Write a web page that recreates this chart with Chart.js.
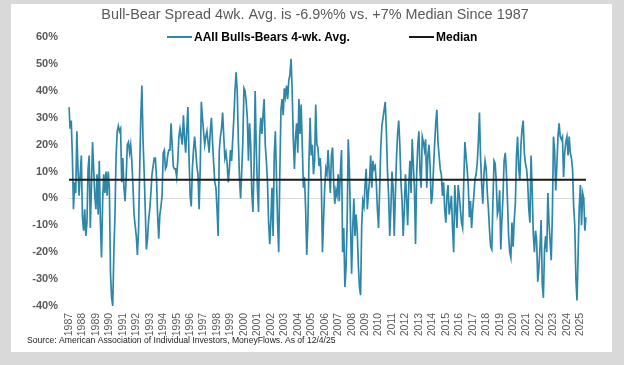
<!DOCTYPE html>
<html>
<head>
<meta charset="utf-8">
<script src="https://cdn.jsdelivr.net/npm/chart.js@4.4.1/dist/chart.umd.min.js"></script>
<style>
  html, body { margin: 0; padding: 0; width: 624px; height: 365px; overflow: hidden; background: #d9d9d9; }
  #frame { position: absolute; left: 11px; top: 4px; width: 601px; height: 348px; background: #ffffff; }
  #wrap { position: absolute; left: 0; top: 0; width: 624px; height: 365px; }
  #legend { position: absolute; left: 0; top: 30px; width: 624px; height: 14px;
            font: bold 12px "Liberation Sans", Arial, sans-serif; color: #000; }
  .item { position: absolute; top: 0; height: 14px; display: flex; align-items: center; white-space: nowrap; }
  .swatch { display: inline-block; width: 25px; height: 2px; margin-right: 2px; }
</style>
</head>
<body>
<div id="frame"></div>
<div id="wrap"><canvas id="c" width="624" height="365"></canvas></div>
<div id="legend"></div>
<script>
// ---- data (monthly readings of the AAII Bull-Bear spread 4-wk avg, %) ----
const firstYear = 1987;      // survey starts July 1987
const firstMonth = 7;
const yearLabels = [1987,1988,1989,1990,1991,1992,1993,1994,1995,1996,1997,1998,1999,2000,
  2001,2002,2003,2004,2005,2006,2007,2008,2009,2010,2011,2012,2013,2014,2015,2016,2017,2018,
  2019,2020,2021,2022,2023,2024,2025];

const spread1987to1991 = [
  34, 26, 29, 16, -4, 6, 2, 25, 11, 1, 9, 16,
  -7, -12, -4, -14, -9, 11, 16, -11, 4, 21, 11, 1,
  -4, 9, -6, 14, -9, -22, -1, 9, 2, 10, 1, 10,
  4, -28, -37, -40, -20, -6, 16, 25, 27, 25, 26, 6];
const spread1991to1995 = [
  15, 4, -1, 8, 20, 21, 17, 20, 14, 5, -6, -10,
  -14, -21, -12, 10, 30, 42, 22, 10, -4, -19, -15, -8,
  -4, 2, 9, 12, 15, 15, 8, -6, -15, -6, -3, 1,
  17, 18, 11, 12, 16, 18, 18, 28, 20, 12, 11, 11];
const spread1995to1999 = [
  8, 14, 23, 26, 23, 20, 31, 23, 17, 25, 34, 16,
  1, -3, 11, 18, 23, 18, 12, 9, -4, 11, 36, 30,
  25, 20, 23, 25, 21, 17, 25, 30, 21, 13, 6, 4,
  -4, -14, 18, 23, 26, 32, 23, 15, 17, 13, 6, 11];
const spread1999to2003 = [
  18, 14, 22, 30, 40, 47, 40, 22, 8, 0, 10, 21,
  41, 40, 36, 30, 14, 28, 20, 2, -5, 12, 40, 18,
  4, -5, 23, 30, 24, 31, 37, 20, 14, 6, -9, -17,
  -8, 4, -14, 16, 25, 8, -9, -20, 10, 33, 37, 31];
const spread2003to2007 = [
  41, 38, 42, 37, 44, 46, 52, 40, 22, 11, 23, 28,
  17, 37, 24, 35, 20, 4, 8, -4, -21, -9, 14, 30,
  16, 20, 9, 14, 35, 20, 19, 12, 15, 6, -20, -8,
  4, 11, 9, 18, 10, 2, 16, 19, 6, -2, 3, 1];
const spread2007to2011 = [
  9, -1, 10, 18, -20, -11, -33, -26, -9, 22, 11, -9,
  -28, -11, 0, -14, -6, -12, -25, -33, -36, -10, -1, -3,
  5, 11, -4, 2, 7, 16, 4, 14, 11, 12, 6, -4,
  -11, 3, 19, 27, 30, 33, 36, 25, 10, 1, -14, -4];
const spread2011to2015 = [
  10, 4, -14, 1, 15, 24, 29, 20, 6, -1, -14, -4,
  9, 0, -10, 5, 14, 2, 22, 13, 4, -17, 9, 20,
  25, 10, 4, 23, 21, 18, 22, 4, 16, 20, 12, -2,
  1, 11, 20, 28, 33, 21, 16, 11, 9, 1, 6, -4];
const spread2015to2019 = [
  -9, 1, 5, -6, -3, 1, -11, -20, 5, -4, -11, 5,
  1, -4, -9, -11, 6, 21, 16, 11, 5, -7, -1, -11,
  -4, 1, 7, 9, 13, 21, 32, 15, 5, -2, 9, 14,
  11, 2, -4, -12, -18, -19, -1, 14, 13, 6, -6, -4];
const spread2019to2023 = [
  3, -19, -8, 1, 14, 17, 10, -1, -14, -20, -22, -9,
  -18, -8, -2, 16, 23, 11, 7, 20, 26, 29, 17, 13,
  11, 6, -4, -9, 16, 3, -13, -20, -12, -16, -31, -26,
  -18, -8, -32, -37, -19, -14, -20, 2, -9, -16, -23, -6];
const spread2023to2025 = [
  23, 18, 3, 12, 23, 28, 23, 22, 23, 8, 17, 21,
  23, 16, 23, 17, 15, 11, -3, -10, -30, -38, -20, -3,
  5, -10, 2, 0, -12, -7];
const medianValue = 7;

const spread = [].concat(spread1987to1991, spread1991to1995, spread1995to1999, spread1999to2003,
  spread2003to2007, spread2007to2011, spread2011to2015, spread2015to2019, spread2019to2023, spread2023to2025);

// month categories
const categories = spread.map((_, i) => {
  const m0 = firstMonth - 1 + i;
  const y = firstYear + Math.floor(m0 / 12);
  const mo = (m0 % 12) + 1;
  return y + '-' + String(mo).padStart(2, '0');
});
const medianSeries = categories.map(() => medianValue);

const FONT = '"Liberation Sans", Arial, sans-serif';
const GRAY = '#595959';

const chart = new Chart(document.getElementById('c'), {
  type: 'line',
  data: {
    labels: categories,
    datasets: [
      { label: 'AAII Bulls-Bears 4-wk. Avg.', data: spread, borderColor: '#2E87A8', backgroundColor: '#2E87A8',
        borderWidth: 1.7, pointRadius: 0, tension: 0, order: 2 },
      { label: 'Median', data: medianSeries, borderColor: '#1a1a1a', backgroundColor: '#1a1a1a',
        borderWidth: 2, pointRadius: 0, tension: 0, order: 1 }
    ]
  },
  options: {
    responsive: false,
    devicePixelRatio: 1,
    animation: false,
    layout: { padding: { left: 27, right: 21, top: 0, bottom: 0 } },
    plugins: {
      legend: { display: false },
      tooltip: { enabled: false },
      title: {
        display: true,
        text: 'Bull-Bear Spread 4wk. Avg. is -6.9%% vs. +7% Median Since 1987',
        color: GRAY,
        font: { family: FONT, size: 14.4, weight: 'normal' },
        padding: { top: 6, bottom: 14 }
      },
      subtitle: {
        display: true,
        position: 'bottom',
        align: 'start',
        text: 'Source: American Association of Individual Investors, MoneyFlows. As of 12/4/25',
        color: '#222',
        font: { family: FONT, size: 8.6, weight: 'normal' },
        padding: { top: 0, bottom: 19 }
      }
    },
    scales: {
      x: {
        type: 'category',
        grid: { display: false, drawTicks: false },
        border: { display: false },
        ticks: {
          autoSkip: false,
          maxRotation: 90,
          minRotation: 90,
          padding: 7,
          color: GRAY,
          font: { family: FONT, size: 10.5 },
          callback: (v, i) => (i % 12 === 0 ? String(yearLabels[i / 12]) : null)
        },
        afterFit: (s) => { s.height = 29.8; }
      },
      y: {
        min: -40, max: 60,
        grid: { color: (c) => (c.tick && c.tick.value === 0 ? '#d9d9d9' : 'rgba(0,0,0,0)'), drawTicks: false },
        border: { display: false },
        ticks: {
          stepSize: 10,
          padding: 11,
          color: GRAY,
          font: { family: FONT, size: 11, weight: 'bold' },
          callback: (v) => v + '%'
        },
        afterFit: (s) => { s.width = 42; }
      },
      yR: {
        position: 'right',
        display: true,
        min: -40, max: 60,
        grid: { display: false, drawTicks: false },
        border: { display: false },
        ticks: { display: false },
        afterFit: (s) => { s.width = 17; }
      }
    }
  }
});

// HTML legend built from the chart's datasets (in dataset order)
const legendEl = document.getElementById('legend');
const items = Chart.defaults.plugins.legend.labels.generateLabels(chart)
  .sort((a, b) => a.datasetIndex - b.datasetIndex);
const legendLeft = [167, 409];
items.forEach((it, k) => {
  const d = document.createElement('div');
  d.className = 'item';
  d.style.left = legendLeft[k] + 'px';
  const sw = document.createElement('span');
  sw.className = 'swatch';
  sw.style.background = it.strokeStyle;
  const tx = document.createElement('span');
  tx.textContent = it.text;
  d.appendChild(sw); d.appendChild(tx);
  legendEl.appendChild(d);
});
</script>
</body>
</html>
